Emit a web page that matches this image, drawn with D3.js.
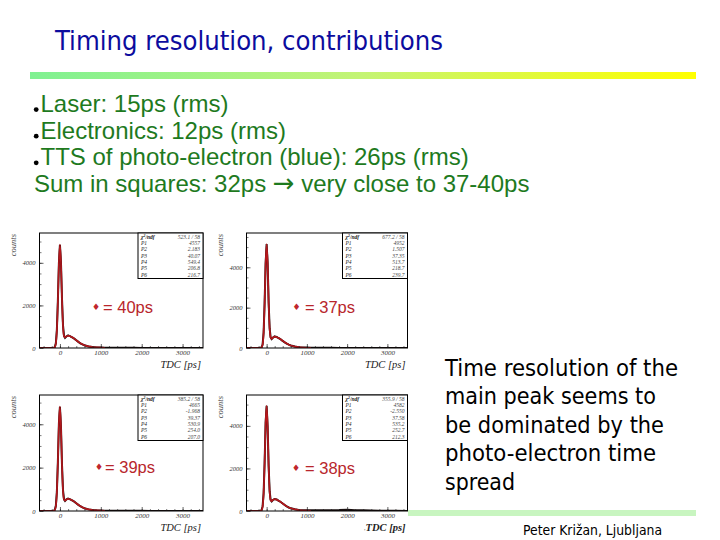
<!DOCTYPE html>
<html><head><meta charset="utf-8">
<script src="https://cdn.jsdelivr.net/npm/d3@7"></script>
<style>body{margin:0;background:#fff}svg{display:block}</style>
</head><body>
<svg id="c" width="720" height="540"></svg>
<script>
// ---------- data ----------
const titleText = "Timing resolution, contributions";
const bulletLines = ["Laser: 15ps (rms)", "Electronics: 12ps (rms)", "TTS of photo-electron (blue): 26ps (rms)"];
const sumParts = ["Sum in squares: 32ps ", "\u2192", " very close to 37-40ps"];
const sideLines = ["Time resolution of the", "main peak seems to", "be dominated by the", "photo-electron time", "spread"];
const footerText = "Peter Kri\u017ean, Ljubljana";

// TDC bin positions (ps)
const tdc = [-500,-300,-200,-150,-125,-100,-75,-50,-25,0,25,50,75,100,125,150,175,200,225,250,275,300,350,400,450,500,550,600,700,800,900,1000,1100,1200,1400,1600,1800,2000,2200,2400,2600,2800,3000,3200,3500];

const countsA = [0,0,3,12,48,225,850,2240,4000,4850, 4030,2330,1060,570,480,530,565,595,570,560, 520,495,440,360,290,220,170,130,75,42, 28,20,15,12,9,7,6,5,5,4, 3,3,2,2,1];
const fitA    = [0,0,1,8,40,215,840,2230,3990,4850, 4000,2300,1020,560,500,535,560,575,568,552, 528,500,438,362,292,225,172,132,76,43, 25,14,8,5,2,1,0,0,0,0, 0,0,0,0,0];
const countsB = [0,0,2,8,35,170,760,2230,4200,5150, 4230,2260,980,520,440,500,540,575,560,545, 515,490,425,350,280,215,165,125,72,40, 26,19,14,11,8,7,6,5,4,4, 3,3,2,1,1];
const fitB    = [0,0,0,5,28,165,750,2210,4180,5150, 4200,2240,960,515,455,505,540,560,555,540, 515,490,425,352,282,218,166,126,72,40, 23,13,7,4,2,1,0,0,0,0, 0,0,0,0,0];
const countsC = [0,0,3,14,55,240,880,2290,4050,4810, 3900,2150,960,540,470,520,555,570,560,540, 510,485,430,355,285,220,168,128,74,44, 30,22,17,13,10,8,7,6,5,4, 4,3,2,2,1];
const fitC    = [0,0,1,10,48,235,870,2280,4030,4810, 3880,2130,940,530,480,520,548,562,555,540, 515,488,430,356,287,222,170,130,75,43, 25,14,8,5,2,1,0,0,0,0, 0,0,0,0,0];
const countsD = [0,0,2,10,42,215,830,2270,4150,4940, 3980,2120,930,520,455,505,540,565,555,540, 510,480,425,350,280,215,165,125,78,50, 40,36,34,36,38,40,44,58,40,30, 22,15,10,6,3];
const fitD    = [0,0,1,7,38,210,820,2260,4130,4940, 3960,2100,910,515,465,510,540,555,550,535, 510,482,425,352,283,218,167,127,74,42, 24,14,8,5,2,1,0,0,0,0, 0,0,0,0,0];

const histCounts = [countsA, countsB, countsC, countsD];
const histFits = [fitA, fitB, fitC, fitD];
const sigmaLabels = ["= 40ps", "= 37ps", "= 39ps", "= 38ps"];
const yMaxes = [5400, 5700, 5350, 5450];
const xDomain = [-500, 3500];
const xTickValues = [0, 1000, 2000, 3000];
const yTickValues = [0, 2000, 4000];
const statNames = ["/ndf", "P1", "P2", "P3", "P4", "P5", "P6"];
const statValues = [
  ["523.1 / 58", "4557", "2.183", "40.07", "549.4", "206.8", "216.7"],
  ["677.2 / 58", "4952", "1.507", "37.35", "513.7", "218.7", "239.7"],
  ["385.2 / 58", "4665", "-1.968", "39.37", "530.9", "254.0", "207.0"],
  ["355.9 / 58", "4582", "-2.550", "37.58", "535.2", "252.7", "212.3"]
];

// ---------- layout ----------
const svg = d3.select("#c");
const defs = svg.append("defs");

// title
svg.append("text").attr("x", 55).attr("y", 50)
  .attr("font-family", "'DejaVu Sans Condensed','DejaVu Sans',sans-serif")
  .attr("font-size", 27).attr("fill", "#0c0c9e")
  .attr("textLength", 388).attr("lengthAdjust", "spacingAndGlyphs")
  .text(titleText);

// gradient bar
const g1 = defs.append("linearGradient").attr("id", "gbar").attr("x1", "0%").attr("x2", "100%");
g1.append("stop").attr("offset", "0%").attr("stop-color", "#7ff192");
g1.append("stop").attr("offset", "50%").attr("stop-color", "#c4f474");
g1.append("stop").attr("offset", "100%").attr("stop-color", "#ffff00");
svg.append("rect").attr("x", 30).attr("y", 72).attr("width", 666).attr("height", 7).attr("fill", "url(#gbar)");

// bullets
const bulletBase = 112, lineGap = 26.6;
const sans = "'Liberation Sans',Arial,sans-serif";
bulletLines.forEach((t, i) => {
  const y = bulletBase + i * lineGap;
  svg.append("circle").attr("cx", 36.2).attr("cy", y - 2.4).attr("r", 2.4).attr("fill", "#000");
  svg.append("text").attr("x", 40.5).attr("y", y)
    .attr("font-family", sans).attr("font-size", 24)
    .attr("fill", "#1e7a1e").text(t);
});
const st = svg.append("text").attr("x", 34).attr("y", bulletBase + 3 * lineGap)
  .attr("font-family", sans).attr("font-size", 24).attr("fill", "#1e7a1e");
st.append("tspan").text(sumParts[0]);
st.append("tspan").attr("font-family", "'DejaVu Sans',sans-serif").attr("font-size", 26).text(sumParts[1]);
st.append("tspan").text(sumParts[2]);

// side text
const sideWidths = [233, 211, 219, 211, 70];
sideLines.forEach((t, i) => {
  svg.append("text").attr("x", 445).attr("y", 375.5 + i * 28.6)
    .attr("font-family", "'DejaVu Sans Condensed','DejaVu Sans',sans-serif")
    .attr("font-size", 23.5).attr("fill", "#000")
    .attr("textLength", sideWidths[i]).attr("lengthAdjust", "spacingAndGlyphs")
    .text(t);
});

// bottom bar + footer
svg.append("rect").attr("x", 408).attr("y", 510).attr("width", 288).attr("height", 6).attr("fill", "#c8f5c0");
svg.append("text").attr("x", 523).attr("y", 534.5)
  .attr("font-family", "'DejaVu Sans Condensed','DejaVu Sans',sans-serif")
  .attr("font-size", 14.5).attr("fill", "#000")
  .attr("textLength", 139).attr("lengthAdjust", "spacingAndGlyphs")
  .text(footerText);
svg.append("text").attr("x", 364).attr("y", 530).attr("font-size", 6).attr("fill", "#555").text(",");

// panels
const panels = [
  {x: 39.5, y: 233, w: 163.5, h: 115, lab: [96, 103, 313]},
  {x: 246.5, y: 233, w: 161, h: 115, lab: [296.5, 305, 313]},
  {x: 39.5, y: 395, w: 163.5, h: 116, lab: [99, 105, 473]},
  {x: 246.5, y: 395, w: 161, h: 116, lab: [296, 305, 474]}
];
const serif = "'Liberation Serif','DejaVu Serif',serif";

panels.forEach((p, i) => {
  const g = svg.append("g").attr("transform", `translate(${p.x},${p.y})`);
  const x = d3.scaleLinear().domain(xDomain).range([0, p.w]);
  const y = d3.scaleLinear().domain([0, yMaxes[i]]).range([p.h, 0]);

  defs.append("clipPath").attr("id", "clip" + i).append("rect")
    .attr("width", p.w).attr("height", p.h);

  // histogram and fit
  const pts = tdc.map((t, k) => [t, histCounts[i][k]]);
  const fpts = tdc.map((t, k) => [t, histFits[i][k]]);
  const line = d3.line().x(d => x(d[0])).y(d => y(d[1]));
  const fline = d3.line().x(d => x(d[0])).y(d => y(d[1])).curve(d3.curveMonotoneX);
  const cg = g.append("g").attr("clip-path", `url(#clip${i})`);
  cg.append("path").attr("d", line(pts)).attr("fill", "none").attr("stroke", "#1a1010").attr("stroke-width", 2);
  cg.append("path").attr("d", fline(fpts.filter(d => d[0] <= 1100))).attr("fill", "none")
    .attr("stroke", "#b3171c").attr("stroke-width", 1.7);

  // axes
  const xa = g.append("g").attr("transform", `translate(0,${p.h})`)
    .call(d3.axisBottom(x).tickValues(xTickValues).tickSize(-4).tickPadding(2.5).tickFormat(d3.format("d")));
  xa.select(".domain").remove();
  xa.selectAll("line").attr("stroke", "#222").attr("stroke-width", 0.7);
  xa.selectAll("text").attr("font-family", serif).attr("font-style", "italic").attr("font-size", 7).attr("fill", "#333");
  const xm = g.append("g").attr("transform", `translate(0,${p.h})`)
    .call(d3.axisBottom(x).tickValues(d3.range(-400, 3500, 200)).tickSize(-2).tickFormat(""));
  xm.select(".domain").remove();
  xm.selectAll("line").attr("stroke", "#222").attr("stroke-width", 0.6);

  const ya = g.append("g")
    .call(d3.axisLeft(y).tickValues(yTickValues).tickSize(-4).tickPadding(4).tickFormat(d3.format("d")));
  ya.select(".domain").remove();
  ya.selectAll("line").attr("stroke", "#222").attr("stroke-width", 0.7);
  ya.selectAll("text").attr("font-family", serif).attr("font-style", "italic").attr("font-size", 6.5).attr("fill", "#333");
  const ym = g.append("g")
    .call(d3.axisLeft(y).tickValues(d3.range(500, yMaxes[i], 500)).tickSize(-2).tickFormat(""));
  ym.select(".domain").remove();
  ym.selectAll("line").attr("stroke", "#222").attr("stroke-width", 0.6);

  // frame
  g.append("rect").attr("width", p.w).attr("height", p.h).attr("fill", "none").attr("stroke", "#000").attr("stroke-width", 1);

  // axis titles
  g.append("text").attr("transform", `translate(-26,1) rotate(-90)`).attr("text-anchor", "end")
    .attr("dy", "0.35em").attr("font-family", serif).attr("font-style", "italic")
    .attr("font-size", 8.5).attr("fill", "#444").text("counts");
  g.append("text").attr("x", p.w - 2).attr("y", p.h + 19.5).attr("text-anchor", "end")
    .attr("font-family", serif).attr("font-style", "italic").attr("font-size", 10.5)
    .attr("font-weight", i === 3 ? "bold" : "normal").attr("fill", "#222").text("TDC [ps]");

  // stats box
  const bw = 65, bh = 45.5;
  const sb = g.append("g").attr("transform", `translate(${p.w - bw},0)`);
  sb.append("rect").attr("width", bw).attr("height", bh).attr("fill", "#fff").attr("stroke", "#000").attr("stroke-width", 1);
  statNames.forEach((n, k) => {
    const ty = 5.8 + k * 6.3;
    const t = sb.append("text").attr("x", 3).attr("y", ty).attr("font-family", serif)
      .attr("font-style", "italic").attr("font-size", 5.5).attr("fill", "#222");
    if (k === 0) {
      t.attr("font-weight", "bold");
      t.append("tspan").text("\u03c7");
      t.append("tspan").attr("font-size", 3.8).attr("dy", -1.6).text("2");
      t.append("tspan").attr("dy", 1.6).text(n);
    } else {
      t.text(n);
    }
    sb.append("text").attr("x", bw - 3).attr("y", ty).attr("text-anchor", "end")
      .attr("font-family", serif).attr("font-style", "italic").attr("font-size", 5.5).attr("fill", "#444")
      .text(statValues[i][k]);
  });

  // sigma label
  svg.append("text").attr("x", p.lab[0]).attr("y", p.lab[2] - 6.3).attr("text-anchor", "middle")
    .attr("dominant-baseline", "central").attr("font-family", "'DejaVu Sans',sans-serif")
    .attr("font-size", 9).attr("fill", "#c0262c").text("\u2666");
  svg.append("text").attr("x", p.lab[1]).attr("y", p.lab[2])
    .attr("font-family", sans).attr("font-size", 16.5)
    .attr("fill", "#b8262c").text(sigmaLabels[i]);
});
</script>
</body></html>
